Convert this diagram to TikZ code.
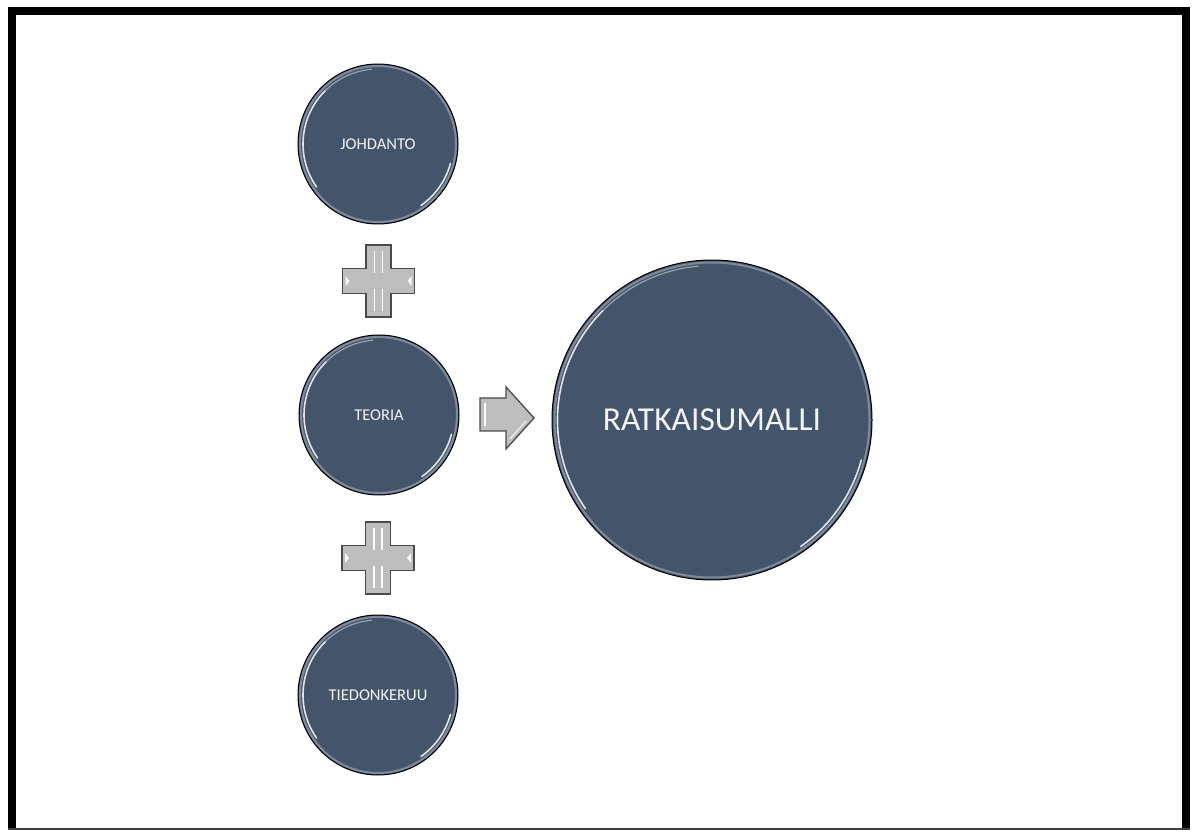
\documentclass[tikz,border=0pt]{standalone}
\usepackage{fontspec}
\setmainfont{Carlito}
\definecolor{slate}{HTML}{44546A}
\definecolor{rimcol}{HTML}{7E8A9C}
\definecolor{plusfill}{HTML}{BEBEBE}
\definecolor{plusline}{HTML}{4A4A4A}
\begin{document}
\begin{tikzpicture}[x=1pt,y=1pt,
  ball/.style={circle, fill=slate, draw=black, line width=1pt, inner sep=0pt,
    text=white!93!slate, font=\fontsize{16.5}{19}\selectfont},
  smallball/.style={ball, minimum size=160pt},
  bigball/.style={ball, minimum size=320pt, font=\fontsize{33.5}{40}\selectfont},
  rim/.style={draw=rimcol, line width=2pt},
  gloss/.style={draw=white, line width=1.6pt, line cap=round, opacity=0.85},
  shapebox/.style={fill=plusfill, draw=plusline, line width=1.3pt, line join=miter},
  shine/.style={draw=white, line width=1.4pt, opacity=0.95},
  frame/.style={fill=black, draw=none}
]
\useasboundingbox (0,0) rectangle (1194,831);
% frame
\fill[frame] (8,824) rectangle (1190,816);
\fill[frame] (8,1) rectangle (16,824);
\fill[frame] (1182,1) rectangle (1190,824);
\draw[black!75, line width=1.5pt] (8,2) -- (1190,2);

% circles
\node[smallball] (johdanto) at (378,687) {JOHDANTO};
\node[smallball] (teoria) at (379,416) {TEORIA};
\node[smallball] (tiedon) at (378,136) {TIEDONKERUU};
\node[bigball] (ratk) at (712,411) {RATKAISUMALLI};

% rims and gloss
\foreach \n/\r in {johdanto/78, teoria/78, tiedon/78, ratk/157.5} {
  \draw[rim] (\n.center) circle[radius=\r pt];
  \draw[gloss] ([shift={(135:\r pt-3pt)}]\n.center) arc[start angle=135, end angle=215, radius=\r pt-3pt];
  \draw[gloss] ([shift={(-15:\r pt-3pt)}]\n.center) arc[start angle=-15, end angle=-55, radius=\r pt-3pt];
  \draw[gloss, opacity=0.45, line width=1.2pt] ([shift={(95:\r pt-3pt)}]\n.center) arc[start angle=95, end angle=135, radius=\r pt-3pt];
}

% plus signs
\foreach \cx/\cy [count=\i] in {378.5/550, 378/273} {
  \coordinate (plus\i) at (\cx,\cy);
  \draw[shapebox] (\cx-12.5,\cy+36) -- (\cx+12.5,\cy+36) -- (\cx+12.5,\cy+12.5)
     -- (\cx+36,\cy+12.5) -- (\cx+36,\cy-12.5) -- (\cx+12.5,\cy-12.5)
     -- (\cx+12.5,\cy-36) -- (\cx-12.5,\cy-36) -- (\cx-12.5,\cy-12.5)
     -- (\cx-36,\cy-12.5) -- (\cx-36,\cy+12.5) -- (\cx-12.5,\cy+12.5) -- cycle;
  \draw[shine] (\cx-4,\cy+30) -- (\cx-4,\cy+8);
  \draw[shine] (\cx+4,\cy+30) -- (\cx+4,\cy+8);
  \draw[shine] (\cx-4,\cy-30) -- (\cx-4,\cy-8);
  \draw[shine] (\cx+4,\cy-30) -- (\cx+4,\cy-8);
  \fill[white, opacity=0.9] (\cx-33,\cy+5) -- (\cx-29,\cy) -- (\cx-33,\cy-5) -- cycle;
  \fill[white, opacity=0.9] (\cx+33,\cy+5) -- (\cx+29,\cy) -- (\cx+33,\cy-5) -- cycle;
}

% arrow
\coordinate (arrowtail) at (480,416.5);
\draw[shapebox] (480,433) -- (506,433) -- (506,444) -- (534,413) -- (506,382)
   -- (506,400) -- (480,400) -- cycle;
\draw[shine] (485,428) -- (485,405);
\draw[shine, opacity=0.7] (510,392) -- (526,410);
\end{tikzpicture}
\end{document}
